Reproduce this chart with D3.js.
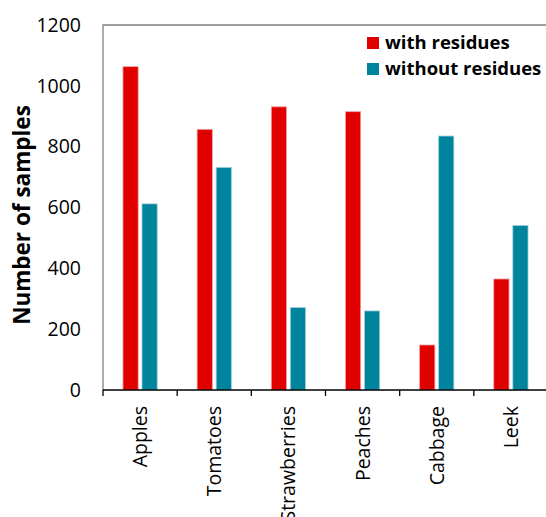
<!DOCTYPE html>
<html>
<head>
<meta charset="utf-8">
<script src="https://cdn.jsdelivr.net/npm/d3@7"></script>
<style>
  html, body { margin: 0; padding: 0; background: #fff; }
  svg { display: block; font-family: "Open Sans", sans-serif; }
</style>
</head>
<body>
<svg id="chart" width="546" height="517"></svg>
<script>
// Produce samples with and without pesticide residues
const categories = ["Apples", "Tomatoes", "Strawberries", "Peaches", "Cabbage", "Leek"];
const withResidues = [1063, 857, 931, 915, 148, 365];
const withoutResidues = [612, 732, 271, 260, 835, 541];
const seriesNames = ["with residues", "without residues"];
const seriesColors = ["#e00000", "#00839c"];
const yTicks = [0, 200, 400, 600, 800, 1000, 1200];

const svg = d3.select("#chart");
const margin = { left: 103, top: 25, right: 548, bottom: 390 };

const x = d3.scaleBand().domain(categories).range([margin.left, margin.right]).paddingInner(0).paddingOuter(0);
const xSub = d3.scaleBand().domain([0, 1]).range([0, x.bandwidth()]).paddingInner(0.2).paddingOuter(1.05);
const y = d3.scaleLinear().domain([0, 1200]).range([margin.bottom, margin.top]);

// plot frame (top and left edges)
svg.append("path")
  .attr("d", `M${margin.left},${margin.bottom}V${margin.top}H${margin.right}`)
  .attr("fill", "none").attr("stroke", "#808080").attr("stroke-width", 1.3);

// bars
const series = [withResidues, withoutResidues];
series.forEach((vals, si) => {
  svg.append("g").selectAll("rect").data(categories).join("rect")
    .attr("x", d => x(d) + xSub(si))
    .attr("width", xSub.bandwidth())
    .attr("y", (d, i) => y(vals[i]))
    .attr("height", (d, i) => y(0) - y(vals[i]))
    .attr("fill", seriesColors[si])
    .attr("stroke", si === 0 ? "#f4a0a0" : "#9fd3dd")
    .attr("stroke-width", 0.8);
});

// y axis
const yAxis = svg.append("g").attr("transform", `translate(${margin.left},0)`)
  .call(d3.axisLeft(y).tickValues(yTicks).tickSize(0).tickPadding(22).tickFormat(d3.format("d")));
yAxis.select(".domain").remove();
yAxis.selectAll("text").attr("font-size", 19.5).attr("fill", "#000").attr("font-family", "Open Sans, sans-serif");

// x axis with ticks between categories
const boundaries = categories.map(c => x(c)).concat([margin.right]);
const xg = svg.append("g");
xg.append("line").attr("x1", margin.left).attr("x2", margin.right)
  .attr("y1", margin.bottom).attr("y2", margin.bottom)
  .attr("stroke", "#000").attr("stroke-width", 1.3);
xg.selectAll("line.tick").data(boundaries).join("line").attr("class", "tick")
  .attr("x1", d => d).attr("x2", d => d)
  .attr("y1", margin.bottom).attr("y2", margin.bottom + 6)
  .attr("stroke", "#000").attr("stroke-width", 1.3);
xg.selectAll("text").data(categories).join("text")
  .attr("transform", d => `translate(${x(d) + x.bandwidth() / 2 + 7},${margin.bottom + 16}) rotate(-90)`)
  .attr("text-anchor", "end")
  .attr("font-size", 19.5)
  .attr("fill", "#000")
  .text(d => d);

// y axis title
svg.append("text")
  .attr("transform", `translate(30,215) rotate(-90)`)
  .attr("text-anchor", "middle")
  .attr("font-size", 22.5)
  .attr("font-weight", "bold")
  .attr("fill", "#000")
  .text("Number of samples");

// legend
const legend = svg.append("g");
seriesNames.forEach((name, i) => {
  const ly = 43 + i * 26;
  legend.append("rect").attr("x", 367).attr("y", ly - 6).attr("width", 12).attr("height", 12)
    .attr("fill", seriesColors[i]);
  legend.append("text").attr("x", 385).attr("y", ly).attr("dy", "0.35em")
    .attr("font-size", 18.5).attr("font-weight", "bold").attr("fill", "#000")
    .text(name);
});
</script>
</body>
</html>
